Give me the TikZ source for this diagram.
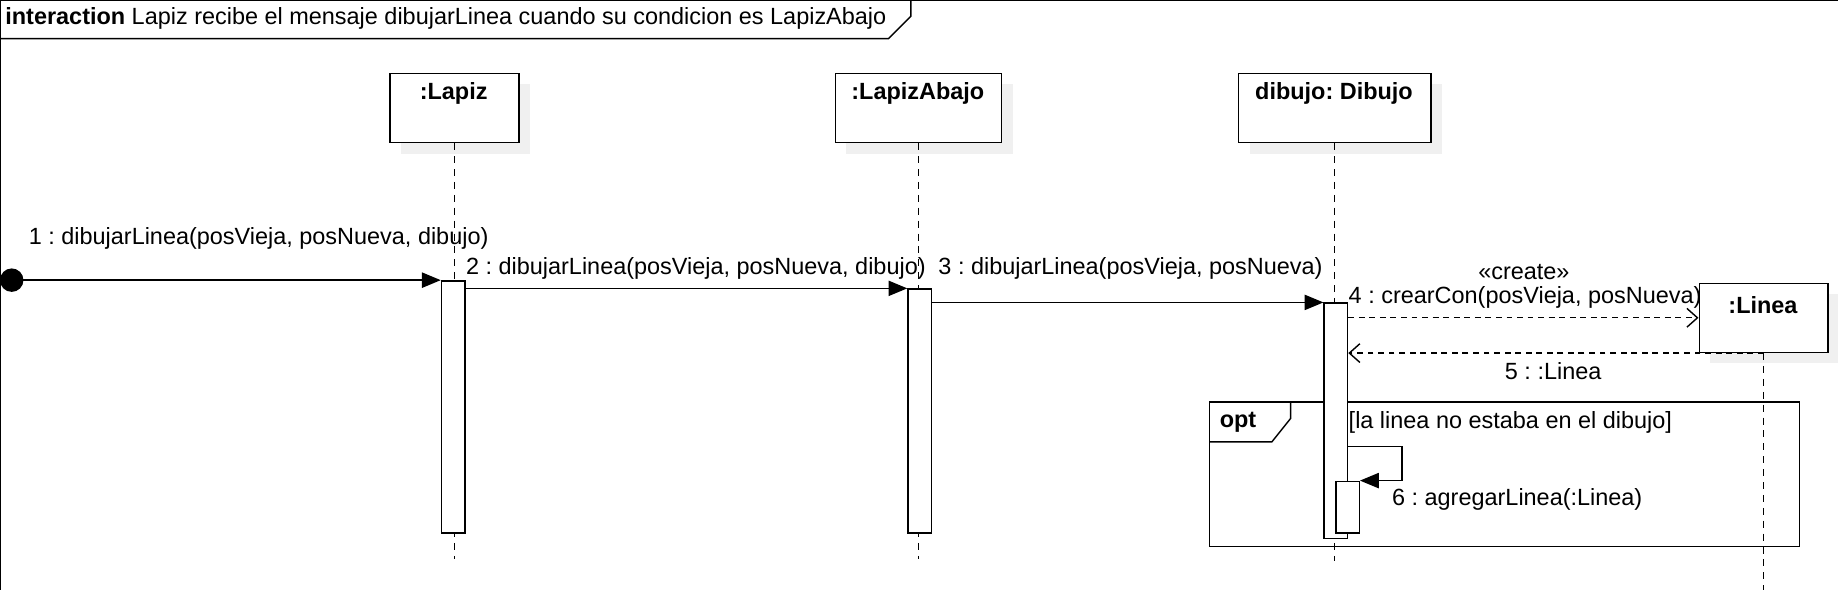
\documentclass[tikz,border=0pt]{standalone}
\usepackage{fontspec}
\setmainfont{Liberation Sans}
\usetikzlibrary{arrows.meta}
\begin{document}
\frenchspacing
\begin{tikzpicture}[x=1pt,y=-1pt,line width=1.2pt,
  every node/.style={font=\fontsize{20}{24}\selectfont, inner sep=0pt},
  hdr/.style={draw, fill=white, anchor=north west, minimum height=59pt},
  shade/.style={fill=black!6, draw=none},
  act/.style={draw, fill=white, anchor=north west, minimum width=20pt},
  life/.style={dash pattern=on 6pt off 5pt, line width=1.1pt},
  msg/.style={-{Triangle[length=16pt,width=13pt]}},
  reply/.style={dash pattern=on 5pt off 4pt, -{Straight Barb[length=9pt,width=16pt]}},
  lbl/.style={anchor=west},
  bold/.style={font=\fontsize{20}{24}\selectfont\bfseries}]
\useasboundingbox (0,0) rectangle (1568,503.3);
% frame
\draw (0.6,504) -- (0.6,0.6) -- (1568,0.6);
\draw (0,33) -- (758,33) -- (777,14) -- (777,0.6);
\node[lbl] (title) at (4,16) {\textbf{interaction} Lapiz recibe el mensaje dibujarLinea cuando su condicion es LapizAbajo};
% shadows
\fill[shade] (342,72) rectangle (452,131);
\fill[shade] (722,72) rectangle (864,131);
\fill[shade] (1066,72) rectangle (1230,131);
\fill[shade] (1459,251) rectangle (1568,310);
% headers
\node[hdr, minimum width=110pt] (lapiz) at (332,62) {};
\node[hdr, minimum width=142pt] (abajo) at (712,62) {};
\node[hdr, minimum width=164pt] (dibujo) at (1056,62) {};
\node[hdr, minimum width=110pt] (linea) at (1449,241) {};
\node[bold] (tlapiz) at (387,80) {:Lapiz};
\node[bold] (tabajo) at (783,80) {:LapizAbajo};
\node[bold] (tdibujo) at (1138,80) {dibujo: Dibujo};
\node[bold] (tlinea) at (1504,260) {:Linea};
% lifelines
\draw[life] (lapiz.south) -- ++(0,355);
\draw[life] (abajo.south) -- ++(0,355);
\draw[life] (dibujo.south) -- ++(0,356);
\draw[life] (linea.south) -- ++(0,205);
% opt fragment
\draw (1032,343) rectangle (1535,466);
\draw (1032,377) -- (1085,377) -- (1101,357) -- (1101,343);
\node[lbl, bold] (optl) at (1040,360) {opt};
\node[lbl] (guard) at (1150,360) {[la linea no estaba en el dibujo]};
% activations
\node[act, minimum height=215pt] (a1) at (376,239) {};
\node[act, minimum height=208pt] (a2) at (774,246) {};
\node[act, minimum height=201pt] (a3) at (1129,258) {};
\node[act, minimum height=44pt] (a4) at (1139,410) {};
% messages
\node[circle, fill=black, minimum size=20pt] (start) at (10,239) {};
\draw[msg] (start.center) -- (a1.north west);
\node[lbl] (l1) at (24,203) {1 : dibujarLinea(posVieja, posNueva, dibujo)};
\draw[msg] (a1.east |- a2.north) -- (a2.north west);
\node[lbl] (l2) at (397,229) {2 : dibujarLinea(posVieja, posNueva, dibujo)};
\draw[msg] (a2.east |- a3.north) -- (a3.north west);
\node[lbl] (l3) at (800,229) {3 : dibujarLinea(posVieja, posNueva)};
\coordinate (c4) at (a3.east |- linea.west);
\draw[reply] (c4) -- (linea.west);
\node (cr) at (1300,232) {«create»};
\node[lbl] (l4) at (1150,254) {4 : crearCon(posVieja, posNueva)};
\coordinate (c5) at (a3.east |- linea.south);
\draw[reply] (linea.south) -- (c5);
\node (l5) at (1325,317) {5 : :Linea};
\coordinate (c6) at (a3.east |- 0,381);
\draw[msg] (c6) -- ++(46,0) |- (a4.north east);
\node[lbl] (l6) at (1187,426) {6 : agregarLinea(:Linea)};
\end{tikzpicture}
\end{document}
